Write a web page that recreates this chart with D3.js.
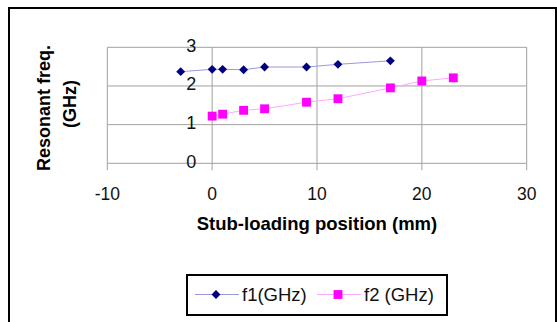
<!DOCTYPE html>
<html>
<head>
<meta charset="utf-8">
<script src="https://cdn.jsdelivr.net/npm/d3@7"></script>
<style>
  body { margin: 0; background: #fff; }
  svg { display: block; font-family: "Liberation Sans", Arial, sans-serif; }
</style>
</head>
<body>
<svg id="chart" width="557" height="322"></svg>
<script>
// data
const f1Positions = [-3, 0, 1, 3, 5, 9, 12, 17];
const f1Values = [2.37, 2.43, 2.43, 2.42, 2.49, 2.49, 2.56, 2.65];
const f2Positions = [0, 1, 3, 5, 9, 12, 17, 20, 23];
const f2Values = [1.22, 1.27, 1.37, 1.41, 1.58, 1.67, 1.95, 2.13, 2.21];
const xTicks = [-10, 0, 10, 20, 30];
const yTicks = [0, 1, 2, 3];
const seriesNames = ["f1(GHz)", "f2 (GHz)"];

const svg = d3.select("#chart");

const x = d3.scaleLinear().domain([-10, 30]).range([107.3, 526.7]);
const y = d3.scaleLinear().domain([0, 3]).range([163.3, 47.3]);

// outer frame
svg
  .append("rect")
  .attr("x", 9)
  .attr("y", 8)
  .attr("width", 547)
  .attr("height", 340)
  .attr("fill", "none")
  .attr("stroke", "#000")
  .attr("stroke-width", 2);

// horizontal grid
svg
  .selectAll(".hgrid")
  .data(yTicks)
  .enter()
  .append("line")
  .attr("x1", x(-10))
  .attr("x2", x(30))
  .attr("y1", (d) => y(d))
  .attr("y2", (d) => y(d))
  .attr("stroke", "#a0a0a0")
  .attr("stroke-width", 1);

// vertical grid (runs a little below the axis like tick marks)
svg
  .selectAll(".vgrid")
  .data(xTicks)
  .enter()
  .append("line")
  .attr("x1", (d) => x(d))
  .attr("x2", (d) => x(d))
  .attr("y1", y(3))
  .attr("y2", y(0) + 7)
  .attr("stroke", "#a0a0a0")
  .attr("stroke-width", 1);

// y tick labels sit next to the axis at x = 0
svg
  .selectAll(".ylab")
  .data(yTicks)
  .enter()
  .append("text")
  .attr("x", x(0) - 16)
  .attr("y", (d) => y(d) + 4.5)
  .attr("text-anchor", "end")
  .attr("font-size", "18px")
  .attr("fill", "#111")
  .text((d) => d);

// x tick labels
svg
  .selectAll(".xlab")
  .data(xTicks)
  .enter()
  .append("text")
  .attr("x", (d) => x(d))
  .attr("y", 200)
  .attr("text-anchor", "middle")
  .attr("font-size", "17.5px")
  .attr("fill", "#111")
  .text((d) => d);

// axis titles
svg
  .append("text")
  .attr("x", (x(-10) + x(30)) / 2)
  .attr("y", 230)
  .attr("text-anchor", "middle")
  .attr("font-size", "18.5px")
  .attr("font-weight", "bold")
  .text("Stub-loading position (mm)");

svg
  .append("text")
  .attr("transform", "translate(50,108) rotate(-90)")
  .attr("text-anchor", "middle")
  .attr("font-size", "18px")
  .attr("font-weight", "bold")
  .text("Resonant freq.");

svg
  .append("text")
  .attr("transform", "translate(76,104) rotate(-90)")
  .attr("text-anchor", "middle")
  .attr("font-size", "18px")
  .attr("font-weight", "bold")
  .text("(GHz)");

// series
const f1Data = f1Positions.map((p, i) => ({ p, v: f1Values[i] }));
const f2Data = f2Positions.map((p, i) => ({ p, v: f2Values[i] }));

const line = d3
  .line()
  .x((d) => x(d.p))
  .y((d) => y(d.v));

svg
  .append("path")
  .datum(f1Data)
  .attr("d", line)
  .attr("fill", "none")
  .attr("stroke", "#9a9ad8")
  .attr("stroke-width", 1);

svg
  .append("path")
  .datum(f2Data)
  .attr("d", line)
  .attr("fill", "none")
  .attr("stroke", "#ffa8ff")
  .attr("stroke-width", 1);

const diamond = d3.symbol().type(d3.symbolDiamond2).size(50);
const square = d3.symbol().type(d3.symbolSquare2).size(100);

svg
  .selectAll(".f1pt")
  .data(f1Data)
  .enter()
  .append("path")
  .attr("d", diamond)
  .attr("transform", (d) => `translate(${x(d.p)},${y(d.v)})`)
  .attr("fill", "#000080");

svg
  .selectAll(".f2pt")
  .data(f2Data)
  .enter()
  .append("path")
  .attr("d", square)
  .attr("transform", (d) => `translate(${x(d.p)},${y(d.v)})`)
  .attr("fill", "#ff00ff");

// legend
const legend = svg.append("g");

legend
  .append("rect")
  .attr("x", 187)
  .attr("y", 275)
  .attr("width", 260)
  .attr("height", 40)
  .attr("fill", "#fff")
  .attr("stroke", "#000")
  .attr("stroke-width", 2);

const legendItems = [
  { name: seriesNames[0], x0: 195, line: "#9a9ad8", sym: diamond, fill: "#000080" },
  { name: seriesNames[1], x0: 317, line: "#ffa8ff", sym: square, fill: "#ff00ff" },
];

legendItems.forEach((it) => {
  legend
    .append("line")
    .attr("x1", it.x0)
    .attr("x2", it.x0 + 44)
    .attr("y1", 294.5)
    .attr("y2", 294.5)
    .attr("stroke", it.line)
    .attr("stroke-width", 1);
  legend
    .append("path")
    .attr("d", it.sym)
    .attr("transform", `translate(${it.x0 + 21},294.5)`)
    .attr("fill", it.fill);
  legend
    .append("text")
    .attr("x", it.x0 + 47)
    .attr("y", 300.5)
    .attr("font-size", "18.5px")
    .attr("fill", "#111")
    .text(it.name);
});
</script>
</body>
</html>
